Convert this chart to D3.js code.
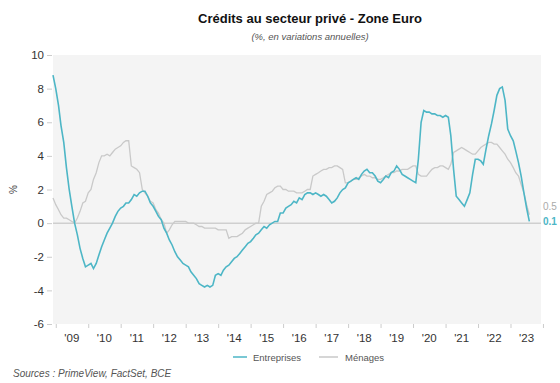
<!DOCTYPE html>
<html>
<head>
<meta charset="utf-8">
<script src="https://cdn.jsdelivr.net/npm/d3@7"></script>
<style>
  body { margin: 0; background: #fff; }
  svg { display: block; font-family: "Liberation Sans", Arial, sans-serif; }
</style>
</head>
<body>
<svg id="chart" width="560" height="383"></svg>
<script>
// Monthly series, Dec 2008 -> Aug 2023
const startMonth = "2008-12";
const entreprises = [
  8.8,
  8.0, 7.0, 5.8, 4.8, 3.3, 2.0, 1.0, 0.0, -0.7, -1.5, -2.1, -2.6,
  -2.5, -2.4, -2.7, -2.4, -1.9, -1.4, -1.0, -0.6, -0.3, 0.0, 0.4, 0.7,
  0.9, 1.0, 1.2, 1.2, 1.4, 1.7, 1.6, 1.8, 1.9, 1.9, 1.6, 1.2,
  1.0, 0.7, 0.4, 0.2, -0.3, -0.6, -1.0, -1.3, -1.7, -2.0, -2.2, -2.4,
  -2.5, -2.6, -2.9, -3.1, -3.3, -3.6, -3.7, -3.8, -3.7, -3.8, -3.7, -3.1,
  -3.0, -3.1, -2.8, -2.6, -2.5, -2.3, -2.1, -2.0, -1.8, -1.6, -1.4, -1.2,
  -1.1, -0.9, -0.7, -0.6, -0.4, -0.2, -0.3, -0.1, 0.0, 0.1, 0.1, 0.6,
  0.6, 0.9, 1.0, 1.1, 1.3, 1.2, 1.5, 1.4, 1.7, 1.8, 1.8, 1.7,
  1.8, 1.7, 1.6, 1.7, 1.6, 1.4, 1.2, 1.3, 1.5, 1.8, 2.0, 2.1,
  2.4, 2.5, 2.6, 2.7, 2.6, 2.9, 3.1, 3.2, 3.0, 3.0, 2.8, 2.5,
  2.4, 2.6, 2.8, 2.7, 3.0, 3.1, 3.4, 3.2, 2.9, 2.8, 2.7, 2.6,
  2.5, 2.4, 3.8, 6.0, 6.7, 6.6, 6.6, 6.5, 6.5, 6.4, 6.4, 6.3,
  6.4, 6.3, 5.2, 3.2, 1.6, 1.4, 1.2, 1.0, 1.4, 1.8, 2.9, 3.8,
  3.8, 3.7, 3.5, 4.4, 5.2, 5.9, 6.7, 7.6, 8.0, 8.1, 7.3, 5.6,
  5.2, 4.9, 4.3, 3.6, 2.8, 1.8, 0.9, 0.1
];
const menages = [
  1.5,
  1.1, 0.8, 0.5, 0.3, 0.3, 0.2, 0.1, 0.0, 0.3, 0.7, 1.2, 1.3,
  1.8, 2.0, 2.6, 3.0, 3.6, 4.0, 4.0, 4.1, 4.0, 4.2, 4.4, 4.5,
  4.6, 4.8, 4.9, 4.9, 3.4, 3.3, 3.2, 3.0, 2.0, 1.8, 1.6, 1.3,
  1.2, 0.8, 0.6, 0.2, 0.0, -0.6, -0.4, -0.1, 0.1, 0.1, 0.1, 0.1,
  0.1, 0.0, 0.0, 0.0, -0.1, -0.2, -0.2, -0.3, -0.3, -0.3, -0.3, -0.3,
  -0.4, -0.4, -0.4, -0.4, -0.9, -0.8, -0.8, -0.8, -0.7, -0.6, -0.4, -0.3,
  -0.2, -0.1, 0.0, 0.0, 1.0, 1.3, 1.7, 1.8, 1.9, 2.1, 2.2, 2.2,
  2.0, 2.0, 1.9, 1.9, 1.9, 1.8, 1.8, 1.8, 1.9, 2.0, 2.0, 2.8,
  2.9, 3.0, 3.1, 3.2, 3.2, 3.3, 3.3, 3.4, 3.4, 3.3, 3.2, 2.4,
  2.4, 2.5, 2.6, 2.6, 2.7, 2.8, 2.9, 2.8, 2.8, 2.7, 2.7, 2.6,
  2.6, 2.7, 2.8, 2.9, 3.0, 3.0, 3.1, 3.1, 3.2, 3.2, 3.2, 3.3,
  3.4, 3.4, 2.9, 2.8, 2.8, 2.8, 3.0, 3.2, 3.3, 3.3, 3.4, 3.4,
  3.3, 3.2, 3.5, 4.2, 4.3, 4.4, 4.5, 4.4, 4.3, 4.2, 4.1, 4.1,
  4.3, 4.5, 4.6, 4.7, 4.8, 4.8, 4.7, 4.7, 4.5, 4.3, 4.1, 3.8,
  3.6, 3.3, 3.0, 2.8, 2.3, 1.8, 1.1, 0.5
];
const yTicks = [-6, -4, -2, 0, 2, 4, 6, 8, 10];
const yearLabels = ["'09","'10","'11","'12","'13","'14","'15","'16","'17","'18","'19","'20","'21","'22","'23"];
const seriesNames = ["Entreprises", "Ménages"];
const colors = { Entreprises: "#4db6c6", "Ménages": "#c9c9c9" };

const svg = d3.select("#chart");
const pL = 53, pR = 541, pT = 55, pB = 324;

const start = d3.timeParse("%Y-%m")(startMonth);
const dates = d3.range(entreprises.length).map(i => d3.timeMonth.offset(start, i));

const x = d3.scaleTime()
  .domain([new Date(2008, 11, 1), new Date(2023, 11, 10)])
  .range([pL, pR]);
const y = d3.scaleLinear().domain([-6, 10]).range([pB, pT]);

// background
svg.append("rect").attr("x", pL).attr("y", pT)
  .attr("width", pR - pL).attr("height", pB - pT)
  .attr("fill", "#f4f4f4");

// zero line
svg.append("line").attr("x1", pL).attr("x2", pR)
  .attr("y1", y(0)).attr("y2", y(0))
  .attr("stroke", "#cfcfcf").attr("stroke-width", 1.5);

// y axis
const yAxis = d3.axisLeft(y).tickValues(yTicks).tickSize(5).tickPadding(3).tickFormat(d => String(d));
const yg = svg.append("g").attr("transform", `translate(${pL - 1},0)`).call(yAxis);
yg.select(".domain").remove();
yg.selectAll(".tick line").attr("stroke", "#cccccc");
yg.selectAll(".tick text").attr("fill", "#333").style("font-size", "11.5px")
  .style("font-family", "'Liberation Sans', Arial, sans-serif");

// x axis: ticks at year boundaries, labels mid-year
const yearStarts = d3.range(2009, 2025).map(yv => new Date(yv, 0, 1));
const xAxis = d3.axisBottom(x).tickValues(yearStarts).tickSize(4).tickFormat("");
const xg = svg.append("g").attr("transform", `translate(0,${pB})`).call(xAxis);
xg.select(".domain").remove();
xg.selectAll(".tick line").attr("stroke", "#cccccc");

svg.append("g").selectAll("text").data(yearLabels).join("text")
  .attr("x", (d, i) => x(new Date(2009 + i, 6, 1)))
  .attr("y", pB + 18)
  .attr("text-anchor", "middle")
  .attr("fill", "#333").style("font-size", "11.5px")
  .text(d => d);

// lines
const line = d3.line().x((d, i) => x(dates[i])).y(d => y(d));
svg.append("path").datum(menages).attr("d", line)
  .attr("fill", "none").attr("stroke", colors["Ménages"]).attr("stroke-width", 1.3);
svg.append("path").datum(entreprises).attr("d", line)
  .attr("fill", "none").attr("stroke", colors.Entreprises).attr("stroke-width", 1.6);

// end labels
svg.append("text").attr("x", 543).attr("y", y(menages[menages.length - 1]) - 5)
  .attr("fill", "#aaaaaa").style("font-size", "10px").text(menages[menages.length - 1].toFixed(1));
svg.append("text").attr("x", 543).attr("y", y(entreprises[entreprises.length - 1]) + 4)
  .attr("fill", colors.Entreprises).style("font-size", "10px").style("font-weight", "bold")
  .text(entreprises[entreprises.length - 1].toFixed(1));

// y label
svg.append("text").attr("transform", `translate(17,${(pT + pB) / 2}) rotate(-90)`)
  .attr("text-anchor", "middle").attr("fill", "#444").style("font-size", "10px").text("%");

// title
svg.append("text").attr("x", 310).attr("y", 23).attr("text-anchor", "middle")
  .attr("fill", "#111").style("font-size", "13px").style("font-weight", "bold")
  .text("Crédits au secteur privé - Zone Euro");
svg.append("text").attr("x", 310).attr("y", 40).attr("text-anchor", "middle")
  .attr("fill", "#555").style("font-size", "9.5px").style("font-style", "italic")
  .text("(%, en variations annuelles)");

// legend
const legend = [
  { name: seriesNames[0], x1: 233, x2: 247, tx: 253 },
  { name: seriesNames[1], x1: 319, x2: 338, tx: 345 }
];
const lg = svg.append("g");
legend.forEach(l => {
  lg.append("line").attr("x1", l.x1).attr("x2", l.x2).attr("y1", 357).attr("y2", 357)
    .attr("stroke", colors[l.name]).attr("stroke-width", 1.5);
  lg.append("text").attr("x", l.tx).attr("y", 360.5).attr("fill", "#555")
    .style("font-size", "9.5px").text(l.name);
});

// source
svg.append("text").attr("x", 13).attr("y", 377).attr("fill", "#555")
  .style("font-size", "10px").style("font-style", "italic")
  .text("Sources : PrimeView, FactSet, BCE");
</script>
</body>
</html>
